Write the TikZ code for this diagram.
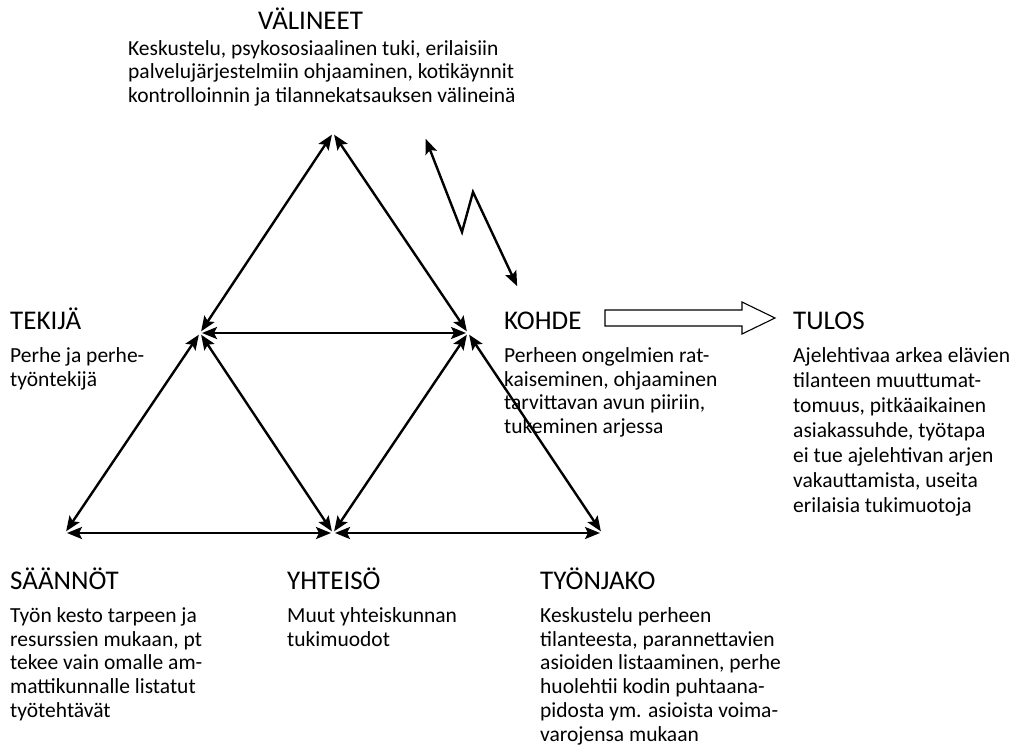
\documentclass[tikz,border=0pt]{standalone}
\usepackage{fontspec}
\setmainfont{Carlito}
\usetikzlibrary{arrows.meta,positioning}
\begin{document}
\begin{tikzpicture}[x=1pt,y=-1pt,
	head/.style={inner sep=0pt, anchor=base west, font=\fontsize{27}{30}\selectfont},
	body/.style={inner sep=0pt, align=left, font=\fontsize{21.5}{23.7}\selectfont},
	link/.style={{Stealth[length=15pt,width=12pt,inset=3pt]}-{Stealth[length=15pt,width=12pt,inset=3pt]}, line width=2.4pt, shorten <=2pt, shorten >=2pt}]
		\useasboundingbox (0,0) rectangle (1032,754);
		% triangle corners
		\coordinate (top) at (333,133);
		\coordinate (left) at (200,333);
		\coordinate (right) at (468,333);
		\coordinate (bl) at (65,533);
		\coordinate (bm) at (333,533);
		\coordinate (br) at (602,533);
		\draw[link] (top) -- (left);
		\draw[link] (top) -- (right);
		\draw[link] (left) -- (right);
		\draw[link] (left) -- (bl);
		\draw[link] (left) -- (bm);
		\draw[link] (right) -- (bm);
		\draw[link] (right) -- (br);
		\draw[link] (bl) -- (bm);
		\draw[link] (bm) -- (br);
		% zigzag
		\coordinate (z1) at (425,137);
		\coordinate (z2) at (462,232);
		\coordinate (z3) at (473,192);
		\coordinate (z4) at (518,288);
		\draw[link, line join=miter] (z1) -- (z2) -- (z3) -- (z4);
		% texts
		\node[head] (valineet) at (258,30) {VÄLINEET};
		\node[body, anchor=north west] (valineetT) at (128,40) {Keskustelu, psykososiaalinen tuki, erilaisiin\\palvelujärjestelmiin ohjaaminen, kotikäynnit\\kontrolloinnin ja tilannekatsauksen välineinä};
		\node[head] (tekija) at (10,329) {TEKIJÄ};
		\node[body, below=18pt of tekija.south west, anchor=north west] (tekijaT) {Perhe ja perhe-\\työntekijä};
		\node[head] (kohde) at (504,329) {KOHDE};
		\node[body, below=18pt of kohde.south west, anchor=north west] (kohdeT) {Perheen ongelmien rat-\\kaiseminen, ohjaaminen\\tarvittavan avun piiriin,\\tukeminen arjessa};
		\node[head] (tulos) at (793,329) {TULOS};
		\node[body, font=\fontsize{21.5}{25}\selectfont, below=18pt of tulos.south west, anchor=north west] (tulosT) {Ajelehtivaa arkea elävien\\tilanteen muuttumat-\\tomuus, pitkäaikainen\\asiakassuhde, työtapa\\ei tue ajelehtivan arjen\\vakauttamista, useita\\erilaisia tukimuotoja};
		\node[head] (saannot) at (10,589) {SÄÄNNÖT};
		\node[body, below=18pt of saannot.south west, anchor=north west] (saannotT) {Työn kesto tarpeen ja\\resurssien mukaan, pt\\tekee vain omalle am-\\mattikunnalle listatut\\työtehtävät};
		\node[head] (yhteiso) at (287,589) {YHTEISÖ};
		\node[body, below=18pt of yhteiso.south west, anchor=north west] (yhteisoT) {Muut yhteiskunnan\\tukimuodot};
		\node[head] (tyonjako) at (540,589) {TYÖNJAKO};
		\node[body, below=18pt of tyonjako.south west, anchor=north west] (tyonjakoT) {Keskustelu perheen\\tilanteesta, parannettavien\\asioiden listaaminen, perhe\\huolehtii kodin puhtaana-\\pidosta ym. asioista voima-\\varojensa mukaan};
		% hollow arrow from KOHDE to TULOS
		\coordinate (flow) at (605,318);
		\draw[line width=1.1pt, line join=miter] (flow) ++(0,-8) -- ++(137,0) -- ++(0,-8) -- ++(33,16) -- ++(-33,16) -- ++(0,-8) -- ++(-137,0) -- cycle;
\end{tikzpicture}
\end{document}
